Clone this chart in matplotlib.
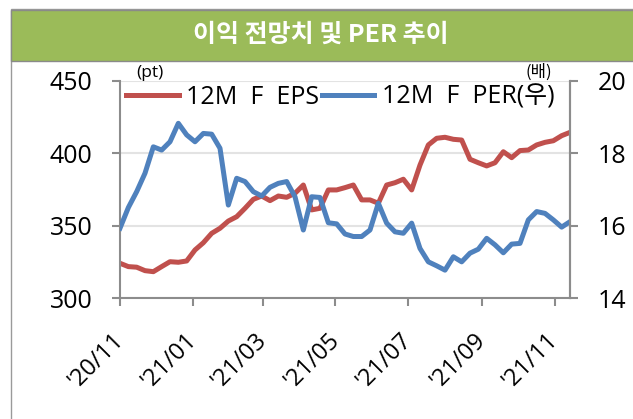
import matplotlib
matplotlib.use("Agg")
import matplotlib.pyplot as plt
import matplotlib.dates as mdates
import pandas as pd
from matplotlib.patches import Rectangle

plt.rcParams['font.family'] = ['Open Sans', 'Noto Sans CJK KR', 'DejaVu Sans']

# weekly data, Nov 2020 - Nov 2021
dates = pd.date_range('2020-11-01', periods=55, freq='7D')

eps = [324.0, 321.7, 321.3, 318.9, 318.2, 321.7, 325.1, 324.7, 325.6, 333.2,
       338.2, 344.7, 348.2, 353.2, 356.2, 362.0, 368.2, 370.5, 367.3, 370.5,
       369.6, 372.4, 378.1, 360.9, 362.0, 374.7, 374.7, 376.3, 378.1, 367.8,
       367.8, 365.5, 378.1, 379.7, 382.1, 374.7, 391.9, 405.8, 410.4, 411.1,
       409.7, 409.2, 395.9, 393.5, 391.3, 393.5, 401.1, 397.0, 401.9, 402.3,
       405.8, 407.6, 408.7, 412.2, 414.5]

per = [15.93, 16.50, 16.94, 17.45, 18.18, 18.09, 18.32, 18.83, 18.51, 18.32,
       18.55, 18.53, 18.14, 16.57, 17.31, 17.22, 16.94, 16.82, 17.06, 17.17,
       17.22, 16.80, 15.88, 16.80, 16.78, 16.08, 16.05, 15.77, 15.70, 15.70,
       15.88, 16.62, 16.07, 15.83, 15.79, 16.07, 15.37, 15.00, 14.89, 14.77,
       15.14, 15.00, 15.24, 15.35, 15.65, 15.47, 15.25, 15.49, 15.51, 16.16,
       16.39, 16.34, 16.16, 15.96, 16.11]

left_ticks = [300, 350, 400, 450]
right_ticks = [14, 16, 18, 20]

red = '#C0504D'
blue = '#4F81BD'
axis_gray = '#8C8C8C'

fig = plt.figure(figsize=(6.33, 4.19), dpi=100)
W, H = 633, 419

# outer frame and green title band
fig.patches.append(Rectangle((11 / W, -0.1), 1.2, 1 - 9.5 / H + 0.1, transform=fig.transFigure,
                             facecolor='none', edgecolor='#9A9A9A', linewidth=1, zorder=0))
fig.patches.append(Rectangle((11 / W, 1 - 60.7 / H), 1.2, 51.2 / H, transform=fig.transFigure,
                             facecolor='#9BBB59', edgecolor='#8A8A8A', linewidth=1, zorder=1))
fig.text(321 / W, 1 - 35 / H, '이익 전망치 및 PER 추이', color='white', fontsize=18,
         family=['Noto Sans CJK KR'], fontweight='bold', ha='center', va='center', zorder=2)

ax = fig.add_axes([120 / W, 1 - 298 / H, 450 / W, 217 / H])
ax2 = ax.twinx()
ax.set_zorder(3)
ax2.set_zorder(4)

l1, = ax.plot(dates, eps, color=red, linewidth=3.6, solid_joinstyle='round', label='12M  F  EPS')
l2, = ax2.plot(dates, per, color=blue, linewidth=3.6, solid_joinstyle='round', label='12M  F  PER(우)')

ax.set_xlim(dates[0], dates[-1])
ax.set_ylim(300, 450)
ax.set_yticks(left_ticks)
ax2.set_ylim(14, 20)
ax2.set_yticks(right_ticks)

ax.yaxis.grid(True, color='#E3E3E3', linewidth=1.5)
ax.set_axisbelow(True)

ax.xaxis.set_major_locator(mdates.MonthLocator(bymonth=[1, 3, 5, 7, 9, 11]))
ax.xaxis.set_major_formatter(mdates.DateFormatter("'%y/%m"))

for a in (ax, ax2):
    a.spines['top'].set_visible(False)
    for s in ('left', 'right', 'bottom'):
        a.spines[s].set_color(axis_gray)
        a.spines[s].set_linewidth(1.5)
ax2.spines['left'].set_visible(False)
ax2.spines['bottom'].set_visible(False)

ax.tick_params(axis='y', length=6, width=1.5, color=axis_gray, labelsize=18, pad=14)
ax2.tick_params(axis='y', length=6, width=1.5, color=axis_gray, labelsize=18, pad=14)
ax.tick_params(axis='x', length=6, width=1.5, color=axis_gray, labelsize=17, pad=22)
for lab in ax.get_xticklabels():
    lab.set_rotation(45)
    lab.set_ha('right')
    lab.set_va('center')
    lab.set_rotation_mode('anchor')

fig.text(136 / W, 1 - 73 / H, '(pt)', fontsize=12.5, ha='left', va='center')
fig.text(539 / W, 1 - 72 / H, '(배)', fontsize=12, ha='center', va='center',
         family=['Noto Sans CJK KR'])

leg = ax2.legend([l1, l2], [l1.get_label(), l2.get_label()], loc='center left',
                 bbox_to_anchor=(126 / W, 1 - 97 / H), bbox_transform=fig.transFigure,
                 ncol=2, frameon=False, fontsize=18, handlelength=2.1, handletextpad=0.3,
                 columnspacing=0.1, borderpad=0, borderaxespad=0)

fig.savefig('out.png', dpi=100)
